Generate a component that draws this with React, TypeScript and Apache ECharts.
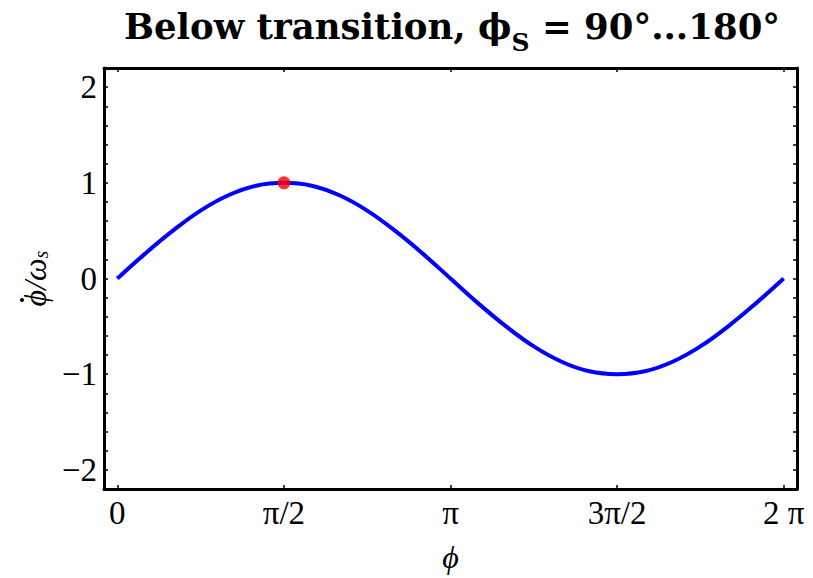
import React, { useEffect, useRef } from "react";
import * as echarts from "echarts";

const phiValues = [0, 0.262, 0.524, 0.785, 1.047, 1.309, 1.571, 1.833, 2.094, 2.356, 2.618, 2.88, 3.142, 3.403, 3.665, 3.927, 4.189, 4.451, 4.712, 4.974, 5.236, 5.498, 5.76, 6.021, 6.283];
const rateValues = [0, 0.26, 0.5, 0.71, 0.87, 0.97, 1, 0.97, 0.87, 0.71, 0.5, 0.26, 0, -0.26, -0.5, -0.71, -0.87, -0.97, -1, -0.97, -0.87, -0.71, -0.5, -0.26, 0];
const markerPoint = [1.571, 1];
const xTickValues = [0, 1.5708, 3.1416, 4.7124, 6.2832];
const xTickLabels = ["0", "π/2", "π", "3π/2", "2 π"];
const yLabelValues = [-2, -1, 0, 1, 2];
const yTickValues = [-2, -1.8, -1.6, -1.4, -1.2, -1, -0.8, -0.6, -0.4, -0.2, 0, 0.2, 0.4, 0.6, 0.8, 1, 1.2, 1.4, 1.6, 1.8, 2];

const FONT = "'Liberation Serif', 'DejaVu Serif', serif";
const TFONT = "'DejaVu Serif', 'Liberation Serif', serif";

export default function App() {
  const ref = useRef<HTMLDivElement>(null);
  useEffect(() => {
    if (!ref.current) return;
    const chart = echarts.init(ref.current, null, { renderer: "svg" });
    const xMin = -0.1257;
    const xMax = 6.4089;
    const axisLine = { show: true, onZero: false, lineStyle: { color: "#000", width: 3 } };
    const xLabelMap = (v: number) => {
      const i = xTickValues.findIndex((t) => Math.abs(t - v) < 1e-3);
      return i >= 0 ? xTickLabels[i] : "";
    };
    const fmtY = (v: number) => (v < 0 ? "\u2212" + Math.abs(v) : String(v));
    chart.setOption({
      animation: false,
      backgroundColor: "#fff",
      title: {
        text: "{a|Below transition, ϕ}{s|S}{a| = 90°...180°}",
        left: 452,
        textAlign: "center",
        top: 8,
        padding: 0,
        textStyle: {
          fontFamily: TFONT,
          fontWeight: "bold",
          fontSize: 35.5,
          color: "#000",
          rich: {
            a: { fontFamily: TFONT, fontWeight: "bold", fontSize: 35.5, color: "#000", verticalAlign: "top" },
            s: { fontFamily: TFONT, fontWeight: "bold", fontSize: 25, color: "#000", verticalAlign: "top", padding: [22, 0, 0, 0] },
          },
        },
      },
      graphic: [
        { type: "circle", shape: { cx: 22, cy: 300, r: 2 }, style: { fill: "#000" } },
      ],
      grid: { left: 104, top: 68, width: 693, height: 426, containLabel: false },
      xAxis: [
        {
          type: "value",
          min: xMin,
          max: xMax,
          position: "bottom",
          axisLine,
          splitLine: { show: false },
          axisTick: { show: true, inside: true, length: 4, customValues: xTickValues, lineStyle: { color: "#000", width: 1.5 } },
          axisLabel: {
            show: true,
            customValues: xTickValues,
            formatter: xLabelMap,
            margin: 7,
            fontFamily: FONT,
            fontSize: 33,
            color: "#000",
          },
          name: "ϕ",
          nameLocation: "middle",
          nameGap: 52,
          nameTextStyle: { fontFamily: FONT, fontStyle: "italic", fontSize: 32, color: "#000" },
        },
        {
          type: "value",
          min: xMin,
          max: xMax,
          position: "top",
          axisLine,
          splitLine: { show: false },
          axisTick: { show: true, inside: true, length: 4, customValues: xTickValues, lineStyle: { color: "#000", width: 1.5 } },
          axisLabel: { show: false },
        },
      ],
      yAxis: [
        {
          type: "value",
          min: -2.2,
          max: 2.2,
          position: "left",
          axisLine,
          splitLine: { show: false },
          axisTick: { show: true, inside: true, length: 4, customValues: yTickValues, lineStyle: { color: "#000", width: 1.5 } },
          axisLabel: {
            show: true,
            customValues: yLabelValues,
            formatter: fmtY,
            margin: 7,
            fontFamily: FONT,
            fontSize: 33,
            color: "#000",
          },
          name: "{q|ϕ/ω}{s|s}",
          nameLocation: "middle",
          nameRotate: 90,
          nameGap: 50,
          nameTextStyle: {
            fontFamily: FONT,
            fontSize: 32,
            color: "#000",
            rich: {
              q: { fontFamily: FONT, fontStyle: "italic", fontSize: 32, color: "#000" },
              s: { fontFamily: FONT, fontStyle: "italic", fontSize: 20, color: "#000", verticalAlign: "bottom" },
            },
          },
        },
        {
          type: "value",
          min: -2.2,
          max: 2.2,
          position: "right",
          axisLine,
          splitLine: { show: false },
          axisTick: { show: true, inside: true, length: 4, customValues: yTickValues, lineStyle: { color: "#000", width: 1.5 } },
          axisLabel: { show: false },
        },
      ],
      series: [
        {
          type: "line",
          xAxisIndex: 0,
          yAxisIndex: 0,
          data: phiValues.map((x, i) => [x, rateValues[i]]),
          smooth: 0.4,
          showSymbol: false,
          symbol: "none",
          lineStyle: { color: "#0000ff", width: 4 },
          z: 2,
        },
        {
          type: "scatter",
          xAxisIndex: 0,
          yAxisIndex: 0,
          data: [markerPoint],
          symbol: "circle",
          symbolSize: 13,
          itemStyle: { color: "#ff0000" },
          z: 3,
        },
      ],
    });
    return () => chart.dispose();
  }, []);
  return <div ref={ref} style={{ position: "fixed", left: 0, top: 0, width: 813, height: 578 }} />;
}
